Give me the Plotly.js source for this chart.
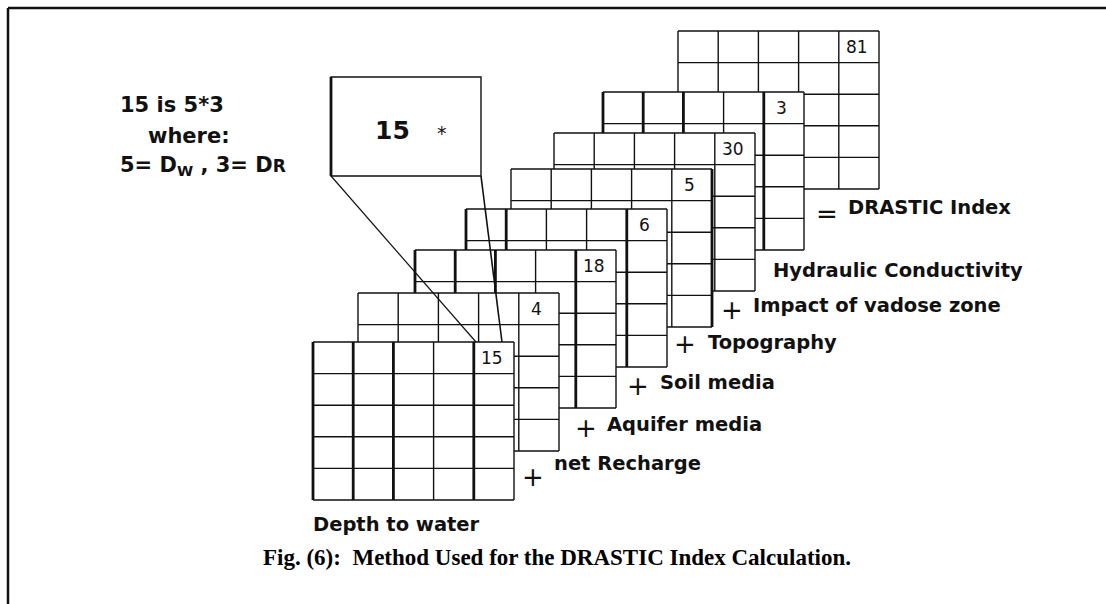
<!DOCTYPE html>
<html><head><meta charset="utf-8">
<script src="https://cdn.plot.ly/plotly-3.0.1.min.js"></script>
<style>html,body{margin:0;padding:0;background:#fff;} #chart{width:1106px;height:604px;}</style>
</head><body><div id="chart"></div>
<script>
// ---- Data ----
const layerNames = ['Depth to water', 'net Recharge', 'Aquifer media', 'Soil media', 'Topography', 'Impact of vadose zone', 'Hydraulic Conductivity', 'DRASTIC Index'];
const layerOperators = ['', '+', '+', '+', '+', '+', '', '='];
const cornerValues = [15, 4, 18, 6, 5, 30, 3, 81];
const noteLines = ['15 is 5*3', 'where:', '5= D<sub>W</sub> , 3= D<span style="font-size:17px">R</span>'];
const calloutText = ['15', '*'];
const captionText = 'Fig. (6):&nbsp; Method Used for the DRASTIC Index Calculation.';

// ---- Geometry (pixel frame 1106 x 604) ----
const gridPos = [[313,342],[358,293],[415,250],[466,209],[511,169],[554,133],[603,92],[678,31]];
const CELL_W = 40.2, CELL_H = 31.6, NC = 5, NR = 5;
const thickCols = [[0,1,2,4],[],[0,1,2,4],[0,1,4],[5],[],[0,1,2,4],[]];
const opPos = [null,[533,477],[586,428],[638,386],[685,344],[732,310],null,[827,214]];
const textPos = [[311,524],[552,463],[605,424],[658,382],[706,342],[751,305],[771,270],[846,207]];
const INK = '#111';

const shapes = [];
const ann = [];
function line(x0,y0,x1,y1,w,dash){
  shapes.push({type:'line',xref:'x',yref:'y',x0,y0,x1,y1,line:{color:INK,width:w,dash:dash||'solid'}});
}
// frame
line(8,8,8,604,2.5); line(8,8,1106,8,2.5);

// grids: back to front
for (let i = gridPos.length-1; i >= 0; i--) {
  const [gx, gy] = gridPos[i];
  const W = CELL_W*NC, H = CELL_H*NR;
  shapes.push({type:'rect',xref:'x',yref:'y',x0:gx,y0:gy,x1:gx+W,y1:gy+H,fillcolor:'#fff',line:{width:0}});
  for (let r = 0; r <= NR; r++) line(gx, gy+r*CELL_H, gx+W, gy+r*CELL_H, 1.4);
  for (let c = 0; c <= NC; c++) {
    const thick = thickCols[i].includes(c);
    line(gx+c*CELL_W, gy, gx+c*CELL_W, gy+H, thick ? 2.8 : 1.4);
  }
  ann.push({x: gx+4.5*CELL_W-2, y: gy+0.5*CELL_H, xref:'x', yref:'y', text: String(cornerValues[i]),
    showarrow:false, xanchor:'center', yanchor:'middle', font:{family:'DejaVu Sans', size:17, color:INK}});
  ann.push({x: textPos[i][0], y: textPos[i][1], xref:'x', yref:'y', text: layerNames[i], showarrow:false,
    xanchor:'left', yanchor:'middle', font:{family:'DejaVu Sans', size:19.5, color:INK, weight:'bold'}});
  if (layerOperators[i]) {
    ann.push({x: opPos[i][0], y: opPos[i][1], xref:'x', yref:'y', text: layerOperators[i], showarrow:false,
      xanchor:'center', yanchor:'middle', font:{family:'DejaVu Sans', size:26, color:INK, weight:'normal'}});
  }
}

// callout box
shapes.push({type:'rect',xref:'x',yref:'y',x0:331,y0:77,x1:481,y1:176,fillcolor:'rgba(0,0,0,0)',line:{color:INK,width:1.4}});
line(331,77,331,176,2.8);
line(331,176,476,342,1.2);
line(481,176,502,342,1.6);
ann.push({x:392,y:130,xref:'x',yref:'y',text:calloutText[0],showarrow:false,xanchor:'center',yanchor:'middle',
  font:{family:'DejaVu Sans',size:25,color:INK,weight:'bold'}});
ann.push({x:442,y:133,xref:'x',yref:'y',text:calloutText[1],showarrow:false,xanchor:'center',yanchor:'middle',
  font:{family:'DejaVu Sans',size:19,color:INK}});

// note text
const notePos = [[118,105],[146,136],[118,166]];
noteLines.forEach((t,k)=>{
  ann.push({x:notePos[k][0],y:notePos[k][1],xref:'x',yref:'y',text:t,showarrow:false,xanchor:'left',yanchor:'middle',
    font:{family:'DejaVu Sans',size:21,color:INK,weight:'bold'}});
});

// caption
ann.push({x:557,y:557,xref:'x',yref:'y',text:captionText,showarrow:false,xanchor:'center',yanchor:'middle',
  font:{family:'Liberation Serif',size:23,color:'#000',weight:'bold'}});

const layout = {
  width:1106, height:604, margin:{l:0,r:0,t:0,b:0},
  paper_bgcolor:'#fff', plot_bgcolor:'#fff', showlegend:false,
  xaxis:{range:[0,1106],visible:false,fixedrange:true},
  yaxis:{range:[604,0],visible:false,fixedrange:true},
  shapes, annotations: ann
};
Plotly.newPlot('chart', [{x:[],y:[],type:'scatter',mode:'markers',hoverinfo:'skip'}], layout, {staticPlot:true, displayModeBar:false});
</script></body></html>
